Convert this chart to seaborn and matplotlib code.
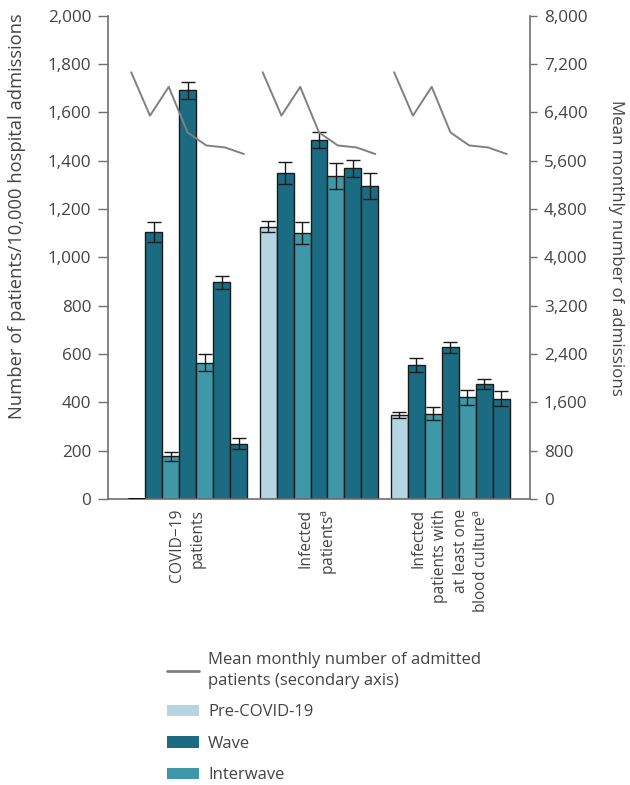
import numpy as np
import pandas as pd
import matplotlib
matplotlib.use("Agg")
import matplotlib.pyplot as plt
from matplotlib.lines import Line2D
from matplotlib.patches import Patch
from matplotlib.container import BarContainer
import seaborn as sns

# ---------------- data ----------------
categories = ["COVID\u221219\npatients",
              "Infected\npatients$^{\\mathrm{a}}$",
              "Infected\npatients with\nat least one\nblood culture$^{\\mathrm{a}}$"]
periods = ["Pre-COVID-19", "Wave 1", "Interwave 1", "Wave 2",
           "Interwave 2", "Wave 3", "Wave 4"]
period_type = ["Pre-COVID-19", "Wave", "Interwave", "Wave",
               "Interwave", "Wave", "Wave"]

covid_vals = [0, 1106, 176, 1691, 564, 896, 229]
covid_err = [0, 42, 18, 35, 36, 28, 22]
infected_vals = [1127, 1349, 1102, 1486, 1337, 1369, 1295]
infected_err = [24, 45, 45, 33, 55, 35, 54]
blood_vals = [349, 556, 353, 627, 422, 476, 415]
blood_err = [13, 29, 26, 21, 31, 20, 30]

admissions = [7064, 6345, 6822, 6068, 5852, 5819, 5710]

left_ticks = [0, 200, 400, 600, 800, 1000, 1200, 1400, 1600, 1800, 2000]
right_ticks = [0, 800, 1600, 2400, 3200, 4000, 4800, 5600, 6400, 7200, 8000]

type_colors = {"Pre-COVID-19": "#b6d5e2", "Wave": "#1b6b83", "Interwave": "#3e98a7"}

# ---------------- build table ----------------
vals = [covid_vals, infected_vals, blood_vals]
errs = [covid_err, infected_err, blood_err]
rows = []
for ci, cat in enumerate(categories):
    for pi, per in enumerate(periods):
        rows.append({"category": cat, "period": per,
                     "value": vals[ci][pi], "err": errs[ci][pi]})
df = pd.DataFrame(rows)
palette = {p: type_colors[t] for p, t in zip(periods, period_type)}

# ---------------- style ----------------
sns.set_theme(style="white")
plt.rcParams["font.family"] = ["Open Sans", "DejaVu Sans"]
plt.rcParams["mathtext.fontset"] = "custom"
plt.rcParams["mathtext.rm"] = "Open Sans"
text_color = "#444444"
spine_color = "#707070"
fs_tick = 12.3
fs_xtick = 11.2
fs_leg = 12

fig = plt.figure(figsize=(6.3, 7.85), dpi=100)
ax = fig.add_axes([108 / 630, 1 - 499 / 785, 422 / 630, (499 - 15.7) / 785])

sns.barplot(data=df, x="category", y="value", hue="period",
            hue_order=periods, order=categories, palette=palette,
            width=0.905, errorbar=None, edgecolor="#1a1a1a", linewidth=1.0,
            saturation=1, legend=False, ax=ax)

# error bars on top of the seaborn bars
bar_containers = [c for c in ax.containers if isinstance(c, BarContainer)]
for pi, cont in enumerate(bar_containers):
    for ci, bar in enumerate(cont):
        if bar.get_height() == 0:
            bar.set_linewidth(2.0)
            bar.set_edgecolor("#000000")
            bar.set_zorder(4)
        e = errs[ci][pi]
        if e <= 0:
            continue
        xc = bar.get_x() + bar.get_width() / 2
        ax.errorbar(xc, bar.get_height(), yerr=e, fmt="none",
                    ecolor="#1a1a1a", elinewidth=1.0, capsize=5,
                    capthick=1.0, zorder=5)

ax.set_xlim(-0.605, 2.605)
ax.set_ylim(0, 2000)
ax.set_yticks(left_ticks)
ax.set_yticklabels([f"{v:,}" for v in left_ticks])
ax.set_xlabel("")
ax.set_ylabel("Number of patients/10,000 hospital admissions",
              fontsize=13.2, color=text_color)
ax.yaxis.set_label_coords(-0.195, 0.585)

ax.tick_params(axis="y", which="both", left=True, length=7, width=1.0,
               color=spine_color, labelsize=fs_tick, labelcolor=text_color, pad=5)
ax.tick_params(axis="x", length=0, pad=7, labelsize=fs_xtick, labelcolor=text_color)
for lab in ax.get_xticklabels():
    lab.set_rotation(90)
    lab.set_ha("center")
    lab.set_va("top")
    lab.set_multialignment("right")
    lab.set_linespacing(1.42)

for s in ["top", "right"]:
    ax.spines[s].set_visible(False)
for s in ["left", "bottom"]:
    ax.spines[s].set_color(spine_color)
    ax.spines[s].set_linewidth(1.2)

# secondary axis line
ax2 = ax.twinx()
for g in range(len(categories)):
    xs = g + (np.arange(len(admissions)) - 3) / 7.0
    ax2.plot(xs, admissions, color="#808080", linewidth=1.4)
ax2.set_ylim(0, 8000)
ax2.set_yticks(right_ticks)
ax2.set_yticklabels([f"{v:,}" for v in right_ticks])
ax2.tick_params(axis="y", right=True, length=5, width=1.0, color=spine_color,
                labelsize=fs_tick, labelcolor=text_color, pad=5)
ax2.set_ylabel("Mean monthly number of admissions", rotation=270,
               va="bottom", fontsize=12.2, color=text_color)
ax2.yaxis.set_label_coords(1.185, 0.519)
for s in ["top", "left", "bottom"]:
    ax2.spines[s].set_visible(False)
ax2.spines["right"].set_color(spine_color)
ax2.spines["right"].set_linewidth(1.2)

# legend
handles = [Line2D([0], [0], color="#808080", linewidth=2),
           Patch(facecolor=type_colors["Pre-COVID-19"], edgecolor="none"),
           Patch(facecolor=type_colors["Wave"], edgecolor="none"),
           Patch(facecolor=type_colors["Interwave"], edgecolor="none")]
labels = ["Mean monthly number of admitted\npatients (secondary axis)",
          "Pre-COVID-19", "Wave", "Interwave"]
leg = fig.legend(handles, labels, loc="upper left",
                 bbox_to_anchor=(167 / 630, 1 - 652 / 785), frameon=False,
                 fontsize=fs_leg, handlelength=1.92, handleheight=0.66,
                 handletextpad=0.55, labelspacing=0.93, borderpad=0.0,
                 borderaxespad=0.0)
for t in leg.get_texts():
    t.set_color(text_color)
    t.set_linespacing(1.4)

fig.savefig("out.png", dpi=100)
